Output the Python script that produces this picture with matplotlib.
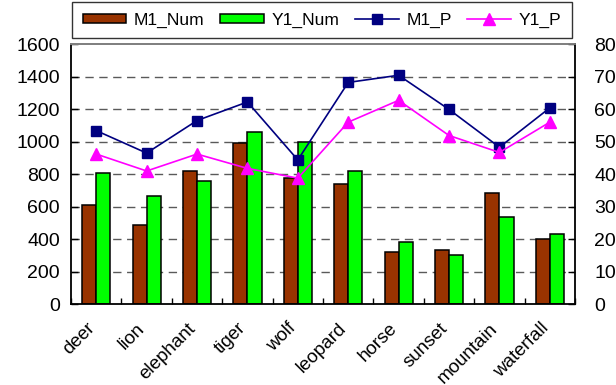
import matplotlib
matplotlib.use("Agg")
import matplotlib.pyplot as plt
import matplotlib.transforms as mtransforms
import numpy as np

plt.rcParams['font.family'] = ['Liberation Sans', 'DejaVu Sans']

categories = ["deer", "lion", "elephant", "tiger", "wolf",
              "leopard", "horse", "sunset", "mountain", "waterfall"]
m1_num = [610, 487, 820, 990, 780, 740, 325, 335, 685, 400]
y1_num = [810, 665, 760, 1060, 1000, 820, 385, 305, 540, 430]
m1_p = [53.4, 46.5, 56.5, 62.2, 44.4, 68.2, 70.4, 59.9, 48.3, 60.4]
y1_p = [46.2, 41.0, 46.2, 41.8, 38.8, 56.0, 62.7, 51.9, 46.7, 56.0]

left_ticks = list(range(0, 1601, 200))
right_ticks = list(range(0, 81, 10))

fig = plt.figure(figsize=(6.16, 3.85), dpi=100)
ax = fig.add_axes([0.1153, 0.2091, 0.8182, 0.6766])

x = np.arange(len(categories))
bw = 0.28
b1 = ax.bar(x - bw / 2, m1_num, bw, color='#993300', edgecolor='black',
            linewidth=1.1, label='M1_Num', zorder=2)
b2 = ax.bar(x + bw / 2, y1_num, bw, color='#00FF00', edgecolor='black',
            linewidth=1.1, label='Y1_Num', zorder=2)

ax.set_xlim(-0.5, len(categories) - 0.5)
ax.set_ylim(0, 1600)
ax.set_yticks(left_ticks)
ax.set_yticklabels([str(t) for t in left_ticks], fontsize=14)

# dashed horizontal grid at the inner ticks
for t in left_ticks[1:-1]:
    ax.axhline(t, color='#5a5a5a', linewidth=1.0, linestyle=(0, (6, 4)), zorder=1)

# category boundary ticks on the x axis, labels at the centres
ax.set_xticks(np.arange(-0.5, len(categories), 1.0))
ax.set_xticklabels([])
ax.set_xticks(x, minor=True)
ax.set_xticklabels(categories, minor=True, rotation=45, ha='right', va='top',
                   rotation_mode='anchor', fontsize=13.5)
ax.tick_params(axis='x', which='minor', length=0, pad=11)
ax.tick_params(axis='x', which='major', direction='in', length=4.5, width=1)
ax.tick_params(axis='y', direction='in', length=5, width=1, pad=8)
shift = mtransforms.ScaledTranslation(-10 / 100, 0, fig.dpi_scale_trans)
for lab in ax.get_xticklabels(minor=True):
    lab.set_transform(lab.get_transform() + shift)

for side in ('left', 'bottom'):
    ax.spines[side].set_linewidth(1.3)
    ax.spines[side].set_color('black')
ax.spines['top'].set_color('#808080')
ax.spines['top'].set_linewidth(1.3)
ax.spines['right'].set_visible(False)

ax2 = ax.twinx()
ax2.set_ylim(0, 80)
ax2.set_yticks(right_ticks)
ax2.set_yticklabels([str(t) for t in right_ticks], fontsize=14)
ax2.tick_params(axis='y', direction='in', length=5, width=1, pad=14)
ax2.spines['right'].set_linewidth(1.3)
ax2.spines['right'].set_color('black')
ax2.spines['top'].set_color('#808080')
ax2.spines['top'].set_linewidth(1.3)
ax2.spines['left'].set_visible(False)
ax2.spines['bottom'].set_visible(False)

l1, = ax2.plot(x, m1_p, color='#000080', linewidth=1.2, marker='s',
               markersize=7.5, label='M1_P', zorder=3)
l2, = ax2.plot(x, y1_p, color='#FF00FF', linewidth=1.2, marker='^',
               markersize=8.5, label='Y1_P', zorder=3)

leg = fig.legend(handles=[b1, b2, l1, l2], ncol=4, loc='center',
                 bbox_to_anchor=(0.1174, 0.9065, 0.8107, 0.0823),
                 bbox_transform=fig.transFigure, mode='expand',
                 borderaxespad=0, fontsize=12.5, handlelength=2.5,
                 handleheight=0.4, handletextpad=0.45, columnspacing=1.0,
                 fancybox=False, frameon=True, borderpad=0.6)
leg.get_frame().set_edgecolor('black')
leg.get_frame().set_linewidth(1.0)

fig.savefig('out.png', dpi=100)
